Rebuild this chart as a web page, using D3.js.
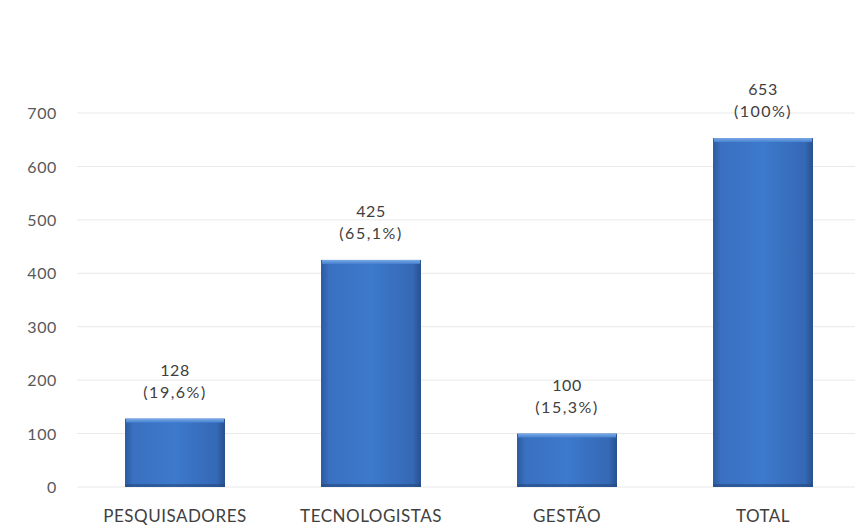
<!DOCTYPE html>
<html>
<head>
<meta charset="utf-8">
<script src="https://cdn.jsdelivr.net/npm/d3@7"></script>
<style>
  body { margin: 0; background: #fff; }
  text { font-family: Lato, "Open Sans", sans-serif; }
</style>
</head>
<body>
<svg id="chart" width="861" height="532"></svg>
<script>
var categories = ["PESQUISADORES", "TECNOLOGISTAS", "GESTÃO", "TOTAL"];
var values = [128, 425, 100, 653];
var percents = ["(19,6%)", "(65,1%)", "(15,3%)", "(100%)"];
var yTicks = [0, 100, 200, 300, 400, 500, 600, 700];

var svg = d3.select("#chart");

var xScale = d3.scaleBand()
    .domain(categories)
    .range([77, 861])
    .paddingInner(0.49)
    .paddingOuter(0.245);

var yScale = d3.scaleLinear()
    .domain([0, 700])
    .range([487, 113]);

// gradient for the bars
var defs = svg.append("defs");
var grad = defs.append("linearGradient")
    .attr("id", "barGrad")
    .attr("x1", "0").attr("x2", "1").attr("y1", "0").attr("y2", "0");
grad.append("stop").attr("offset", "0%").attr("stop-color", "#2b5aa0");
grad.append("stop").attr("offset", "8%").attr("stop-color", "#3a70c0");
grad.append("stop").attr("offset", "50%").attr("stop-color", "#3d79cc");
grad.append("stop").attr("offset", "92%").attr("stop-color", "#3568b5");
grad.append("stop").attr("offset", "100%").attr("stop-color", "#27508f");

var topGrad = defs.append("linearGradient")
    .attr("id", "topGrad")
    .attr("x1", "0").attr("x2", "0").attr("y1", "0").attr("y2", "1");
topGrad.append("stop").attr("offset", "0%").attr("stop-color", "#7aaae6");
topGrad.append("stop").attr("offset", "100%").attr("stop-color", "#4680d0");

// gridlines
svg.append("g")
    .selectAll("line")
    .data(yTicks)
    .enter().append("line")
    .attr("x1", 77)
    .attr("x2", 855)
    .attr("y1", function(d) { return yScale(d); })
    .attr("y2", function(d) { return yScale(d); })
    .attr("stroke", "#e8e8e8")
    .attr("stroke-width", 1);

// y axis labels
var yAxis = d3.axisLeft(yScale).tickValues(yTicks).tickSize(0).tickPadding(0);
var yg = svg.append("g")
    .attr("transform", "translate(57,0)")
    .call(yAxis);
yg.select(".domain").remove();
yg.selectAll("text")
    .attr("font-size", "16px")
    .attr("letter-spacing", "0.6px")
    .attr("fill", "#595959")
    .attr("dy", "0.35em");

// bars
var bars = svg.append("g").selectAll("g")
    .data(values)
    .enter().append("g");

bars.append("rect")
    .attr("x", function(d, i) { return xScale(categories[i]); })
    .attr("y", function(d) { return yScale(d); })
    .attr("width", xScale.bandwidth())
    .attr("height", function(d) { return yScale(0) - yScale(d); })
    .attr("fill", "url(#barGrad)");

bars.append("rect")
    .attr("x", function(d, i) { return xScale(categories[i]) + 1; })
    .attr("y", function(d) { return yScale(d); })
    .attr("width", xScale.bandwidth() - 2)
    .attr("height", 4)
    .attr("fill", "url(#topGrad)");

bars.append("rect")
    .attr("x", function(d, i) { return xScale(categories[i]); })
    .attr("y", yScale(0) - 3)
    .attr("width", xScale.bandwidth())
    .attr("height", 3)
    .attr("fill", "#24497f")
    .attr("opacity", 0.6);

// value labels
bars.append("text")
    .text(function(d) { return d; })
    .attr("x", function(d, i) { return xScale(categories[i]) + xScale.bandwidth() / 2; })
    .attr("y", function(d) { return yScale(d) - 43; })
    .attr("text-anchor", "middle")
    .attr("font-size", "16px")
    .attr("letter-spacing", "0.6px")
    .attr("fill", "#404040");

bars.append("text")
    .text(function(d, i) { return percents[i]; })
    .attr("x", function(d, i) { return xScale(categories[i]) + xScale.bandwidth() / 2; })
    .attr("y", function(d) { return yScale(d) - 21; })
    .attr("text-anchor", "middle")
    .attr("font-size", "16px")
    .attr("letter-spacing", "1.5px")
    .attr("fill", "#404040");

// category labels
var xAxis = d3.axisBottom(xScale).tickSize(0).tickPadding(0);
var xg = svg.append("g")
    .attr("transform", "translate(0,522)")
    .call(xAxis);
xg.select(".domain").remove();
xg.selectAll("text")
    .attr("font-size", "17px")
    .attr("letter-spacing", "0.5px")
    .attr("fill", "#404040")
    .attr("dy", "0");
</script>
</body>
</html>
